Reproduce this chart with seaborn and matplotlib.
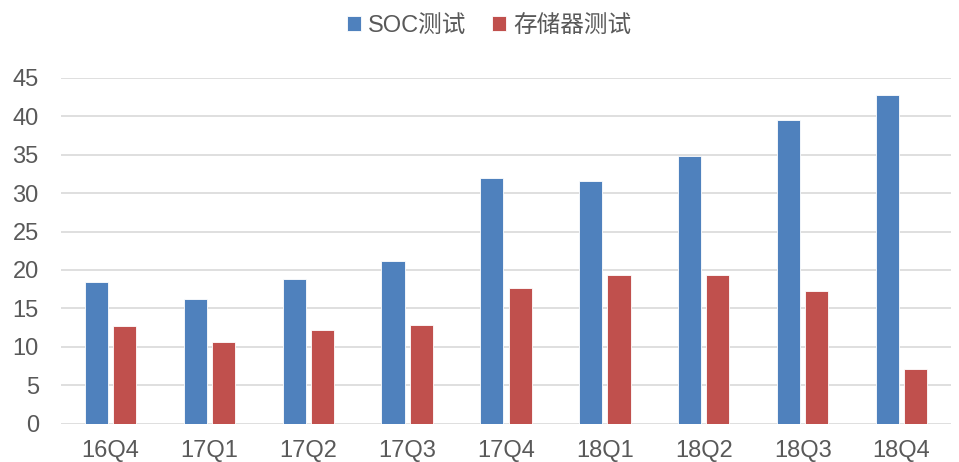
import matplotlib
matplotlib.use("Agg")
import matplotlib.pyplot as plt
import seaborn as sns
import pandas as pd

quarters = ["16Q4", "17Q1", "17Q2", "17Q3", "17Q4", "18Q1", "18Q2", "18Q3", "18Q4"]
soc_test = [18.4, 16.2, 18.8, 21.1, 32.0, 31.6, 34.8, 39.5, 42.8]
memory_test = [12.7, 10.6, 12.2, 12.8, 17.6, 19.4, 19.4, 17.3, 7.1]
series_names = ["SOC测试", "存储器测试"]
colors = ["#4F81BD", "#C0504D"]
y_ticks = [0, 5, 10, 15, 20, 25, 30, 35, 40, 45]

df = pd.DataFrame({
    "quarter": quarters * 2,
    "value": soc_test + memory_test,
    "series": [series_names[0]] * len(quarters) + [series_names[1]] * len(quarters),
})

sns.set_theme(style="white")
plt.rcParams["font.family"] = ["Liberation Sans", "Noto Sans CJK SC", "DejaVu Sans"]

fig = plt.figure(figsize=(9.59, 4.62), dpi=100)
ax = fig.add_axes([61 / 959, 1 - 423.5 / 462, 890 / 959, (423.5 - 78) / 462])

sns.barplot(data=df, x="quarter", y="value", hue="series", order=quarters,
            hue_order=series_names, palette=colors, width=0.57, gap=0.18,
            edgecolor="white", linewidth=0.6, saturation=1, ax=ax, legend=True)

ax.set_ylim(0, 45)
ax.set_yticks(y_ticks)
ax.set_xlim(-0.5, len(quarters) - 0.5)
ax.yaxis.grid(True, color="#D9D9D9", linewidth=1.2)
ax.set_axisbelow(True)
for s in ax.spines.values():
    s.set_visible(False)
ax.set_xlabel("")
ax.set_ylabel("")
ax.tick_params(axis="both", length=0, labelsize=17, colors="#595959")
ax.tick_params(axis="y", pad=16)
ax.tick_params(axis="x", pad=12)
for lbl in ax.get_yticklabels():
    lbl.set_horizontalalignment("right")

handles, labels = ax.get_legend_handles_labels()
ax.legend_.remove()
fig.legend(handles, labels, loc="center", bbox_to_anchor=(0.51, 1 - 26 / 462), ncol=2,
           frameon=False, fontsize=17, handlelength=0.6, handleheight=0.6,
           handletextpad=0.3, columnspacing=1.1, labelcolor="#595959")

fig.savefig("out.png", dpi=100)
